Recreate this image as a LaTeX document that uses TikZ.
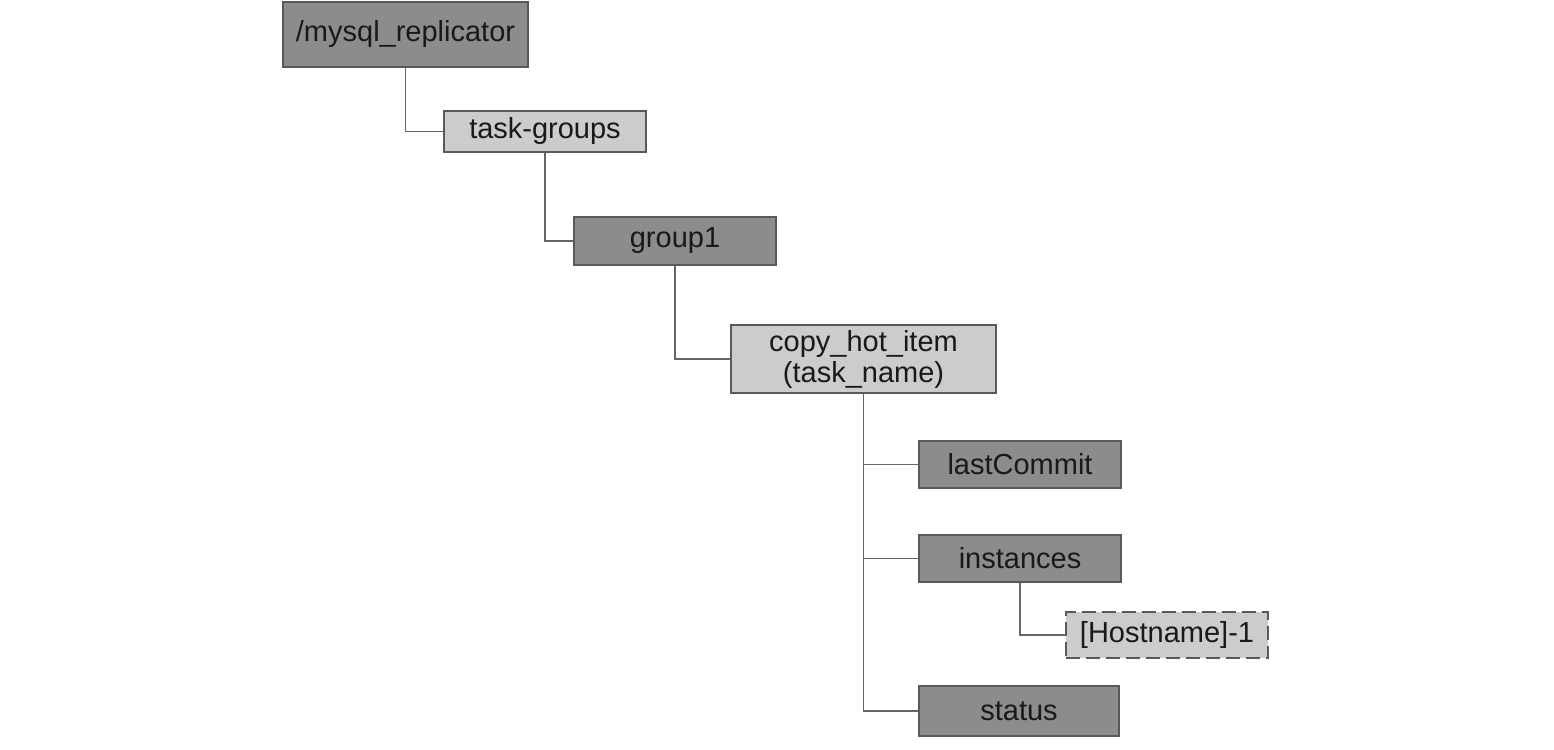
\documentclass[tikz,border=0pt]{standalone}
\usepackage{fontspec}
\setmainfont{Liberation Sans}
\begin{document}
\begin{tikzpicture}[x=1pt,y=-1pt,
  box/.style={draw=black!65, line width=1.8pt, inner sep=0pt, align=center,
    font=\fontsize{29}{31}\selectfont, text=black!90},
  dark/.style={box, fill=black!45},
  light/.style={box, fill=black!20},
  conn/.style={draw=black!60, line width=1.8pt}]
\useasboundingbox (0,0) rectangle (1554,749);
\node[dark, minimum width=245pt, minimum height=65pt] (root) at (405.5,34.5) {/mysql\_replicator};
\node[light, minimum width=202pt, minimum height=41pt] (tg) at (545,131.5) {task-groups};
\node[dark, minimum width=202pt, minimum height=48pt] (g1) at (675,241) {group1};
\node[light, minimum width=265pt, minimum height=68pt] (copy) at (863.5,359) {copy\_hot\_item\\(task\_name)};
\node[dark, minimum width=202pt, minimum height=47pt] (lc) at (1020,464.5) {lastCommit};
\node[dark, minimum width=202pt, minimum height=47pt] (inst) at (1020,558.5) {instances};
\node[light, dashed, dash pattern=on 14pt off 6pt, minimum width=202pt, minimum height=46pt] (host) at (1167,635) {[Hostname]-1};
\node[dark, minimum width=200pt, minimum height=50pt] (st) at (1019,711) {status};
\draw[conn] (root.south) |- (tg.west);
\draw[conn] (tg.south) |- (g1.west);
\draw[conn] (g1.south) |- (copy.west);
\draw[conn] (copy.south) |- (st.west);
\draw[conn] (copy.south) |- (lc.west);
\draw[conn] (copy.south) |- (inst.west);
\draw[conn] (inst.south) |- (host.west);
\end{tikzpicture}
\end{document}
